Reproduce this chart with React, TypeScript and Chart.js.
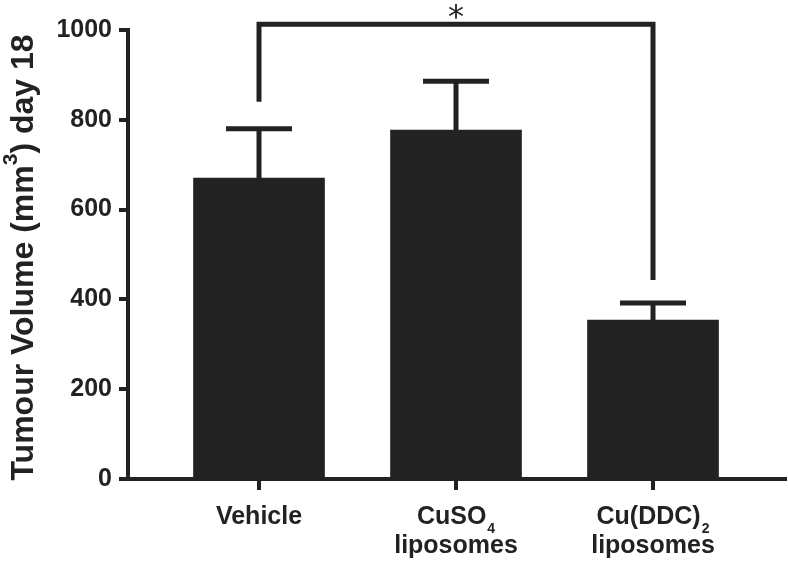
import React, { useEffect, useRef } from 'react';
import { Chart, registerables } from 'chart.js';

Chart.register(...registerables);

// ---- data ----
const categoryMain = ['Vehicle', 'CuSO', 'Cu(DDC)'];
const categorySub = ['', '4', '2'];
const categorySecond = ['', 'liposomes', 'liposomes'];
const meanValues = [670, 777, 354];
const errorValues = [110, 109, 38];
const yTickValues = [0, 200, 400, 600, 800, 1000];
const bracketGroups = [0, 2];
const bracketLegs = [840, 443];
const bracketTop = 1013;
const significanceLabel = '*';
const yTitleParts = ['Tumour Volume (mm', '3', ') day 18'];

const INK = '#222222';
const FONT = 'Arial, "Liberation Sans", Helvetica, sans-serif';

const annotationsPlugin = {
  id: 'annotations',
  afterDatasetsDraw(chart: any) {
    const ctx = chart.ctx;
    const xs = chart.scales.x;
    const ys = chart.scales.y;
    ctx.save();
    ctx.strokeStyle = INK;
    ctx.lineWidth = 5;
    ctx.lineCap = 'butt';
    meanValues.forEach((m, i) => {
      const cx = xs.getPixelForValue(i + 1);
      const base = ys.getPixelForValue(m);
      const top = ys.getPixelForValue(m + errorValues[i]);
      ctx.beginPath();
      ctx.moveTo(cx, base);
      ctx.lineTo(cx, top);
      ctx.stroke();
      ctx.beginPath();
      ctx.moveTo(cx - 33, top);
      ctx.lineTo(cx + 33, top);
      ctx.stroke();
    });
    // significance bracket
    const xa = xs.getPixelForValue(bracketGroups[0] + 1);
    const xb = xs.getPixelForValue(bracketGroups[1] + 1);
    const yt = ys.getPixelForValue(bracketTop);
    ctx.lineJoin = 'miter';
    ctx.beginPath();
    ctx.moveTo(xa, ys.getPixelForValue(bracketLegs[0]));
    ctx.lineTo(xa, yt);
    ctx.lineTo(xb, yt);
    ctx.lineTo(xb, ys.getPixelForValue(bracketLegs[1]));
    ctx.stroke();
    ctx.fillStyle = INK;
    ctx.font = 'normal 32px "DejaVu Sans", sans-serif';
    ctx.textAlign = 'center';
    ctx.textBaseline = 'alphabetic';
    ctx.fillText(significanceLabel, (xa + xb) / 2, yt + 3);
    ctx.restore();
  },
  afterDraw(chart: any) {
    const ctx = chart.ctx;
    const xs = chart.scales.x;
    const area = chart.chartArea;
    ctx.save();
    ctx.fillStyle = INK;
    ctx.textBaseline = 'alphabetic';
    // x category labels
    categoryMain.forEach((main, i) => {
      const cx = xs.getPixelForValue(i + 1);
      const base1 = area.bottom + 45;
      ctx.font = `bold 25px ${FONT}`;
      const wMain = ctx.measureText(main).width;
      ctx.font = `bold 14px ${FONT}`;
      const wSub = categorySub[i] ? ctx.measureText(categorySub[i]).width + 1 : 0;
      const start = cx - (wMain + wSub) / 2;
      ctx.textAlign = 'left';
      ctx.font = `bold 25px ${FONT}`;
      ctx.fillText(main, start, base1);
      if (categorySub[i]) {
        ctx.font = `bold 14px ${FONT}`;
        ctx.fillText(categorySub[i], start + wMain + 1, base1 + 9);
      }
      if (categorySecond[i]) {
        ctx.font = `bold 25px ${FONT}`;
        ctx.textAlign = 'center';
        ctx.fillText(categorySecond[i], cx, base1 + 29);
      }
    });
    // y title
    ctx.translate(33, 257.5);
    ctx.rotate(-Math.PI / 2);
    ctx.textAlign = 'left';
    ctx.font = `bold 32px ${FONT}`;
    const w0 = ctx.measureText(yTitleParts[0]).width;
    const w2 = ctx.measureText(yTitleParts[2]).width;
    ctx.font = `bold 21px ${FONT}`;
    const w1 = ctx.measureText(yTitleParts[1]).width;
    let x0 = -(w0 + w1 + w2) / 2;
    ctx.font = `bold 32px ${FONT}`;
    ctx.fillText(yTitleParts[0], x0, 0);
    x0 += w0;
    ctx.font = `bold 21px ${FONT}`;
    ctx.fillText(yTitleParts[1], x0, -16);
    x0 += w1;
    ctx.font = `bold 32px ${FONT}`;
    ctx.fillText(yTitleParts[2], x0, 0);
    ctx.restore();
  },
};

export default function App() {
  const ref = useRef<HTMLCanvasElement>(null);
  useEffect(() => {
    if (!ref.current) return;
    const chart = new Chart(ref.current, {
      type: 'bar',
      data: {
        datasets: [
          {
            data: meanValues.map((v, i) => ({ x: i + 1, y: v })),
            backgroundColor: INK,
            borderWidth: 0,
            barThickness: 131,
          },
        ],
      },
      options: {
        responsive: false,
        animation: false,
        events: [],
        layout: { padding: { left: 0, right: 3, top: 30, bottom: 0 } },
        plugins: { legend: { display: false }, tooltip: { enabled: false } },
        scales: {
          x: {
            type: 'linear',
            offset: false,
            min: 0.335,
            max: 3.67,
            afterBuildTicks: (s: any) => {
              s.ticks = categoryMain.map((_, i) => ({ value: i + 1 }));
            },
            afterFit: (s: any) => {
              s.height = 83;
            },
            ticks: { display: false },
            grid: {
              offset: false,
              drawOnChartArea: false,
              drawTicks: true,
              tickLength: 11,
              tickWidth: 4,
              tickColor: INK,
              color: INK,
              lineWidth: 4,
            },
            border: { display: true, color: INK, width: 4 },
          },
          y: {
            type: 'linear',
            min: 0,
            max: 1000,
            afterBuildTicks: (s: any) => {
              s.ticks = yTickValues.map((v) => ({ value: v }));
            },
            afterFit: (s: any) => {
              s.width = 128;
            },
            ticks: {
              color: INK,
              padding: 7,
              font: { family: FONT, size: 25, weight: 'bold' },
              callback: (v: any) => String(v),
            },
            grid: {
              drawOnChartArea: false,
              drawTicks: true,
              tickLength: 9,
              tickWidth: 4,
              tickColor: INK,
              color: INK,
              lineWidth: 4,
            },
            border: { display: true, color: INK, width: 4 },
          },
        },
      },
      plugins: [annotationsPlugin],
    });
    return () => chart.destroy();
  }, []);
  return (
    <div style={{ position: 'absolute', left: 0, top: 0, width: 788, height: 562, background: '#fff' }}>
      <canvas ref={ref} width={788} height={562} />
    </div>
  );
}
